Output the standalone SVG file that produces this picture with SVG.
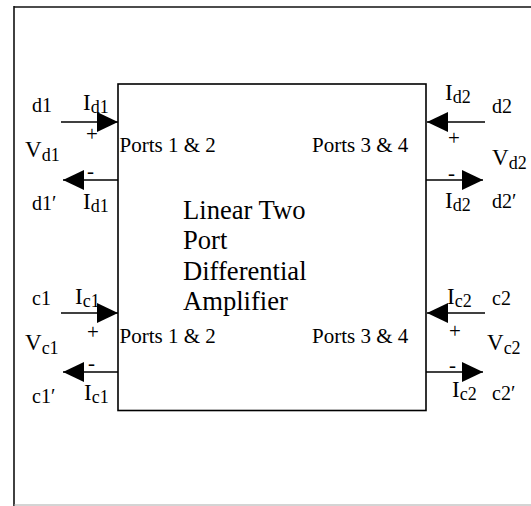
<svg xmlns="http://www.w3.org/2000/svg" width="531" height="506" viewBox="0 0 531 506">
<style>
text{font-family:"Liberation Serif","Times New Roman",serif;fill:#000}
.lbl{font-size:20px}
.iv{font-size:23px}
.sub{font-size:18px}
.pm{font-size:21px}
.port{font-size:21px}
.title{font-size:26.6px}
.wire{stroke:#000;stroke-width:1.6;fill:none}
</style>
<defs>
<marker id="ah" markerUnits="userSpaceOnUse" markerWidth="21" markerHeight="20" refX="21" refY="10" orient="auto" viewBox="0 0 21 20">
<path d="M0,0 L21,10 L0,20 Z" fill="#000"/>
</marker>
</defs>
<rect width="531" height="506" fill="#fff"/>
<g id="frame">
<line x1="14" y1="7" x2="531" y2="7" stroke="#111" stroke-width="1.6"/>
<line x1="14" y1="6" x2="14" y2="506" stroke="#111" stroke-width="1.6"/>
<line x1="14" y1="505" x2="531" y2="505" stroke="#aaa" stroke-width="1.2"/>
</g>
<g id="amplifier">
<rect x="118" y="84" width="308" height="326.5" fill="none" stroke="#000" stroke-width="1.6"/>
<text class="title" x="183" y="218.5">Linear Two</text>
<text class="title" x="183" y="249">Port</text>
<text class="title" x="183" y="279.5">Differential</text>
<text class="title" x="183" y="310">Amplifier</text>
<text class="port" x="119.5" y="152">Ports 1 &amp; 2</text>
<text class="port" x="312" y="152">Ports 3 &amp; 4</text>
<text class="port" x="119.5" y="343">Ports 1 &amp; 2</text>
<text class="port" x="312" y="343">Ports 3 &amp; 4</text>
</g>
<g id="connectors">
<line class="wire" x1="61" y1="122" x2="118" y2="122" marker-end="url(#ah)"/>
<line class="wire" x1="118" y1="180" x2="63" y2="180" marker-end="url(#ah)"/>
<line class="wire" x1="485" y1="122" x2="427" y2="122" marker-end="url(#ah)"/>
<line class="wire" x1="426" y1="180" x2="483" y2="180" marker-end="url(#ah)"/>
<line class="wire" x1="61" y1="313" x2="118" y2="313" marker-end="url(#ah)"/>
<line class="wire" x1="118" y1="372" x2="63" y2="372" marker-end="url(#ah)"/>
<line class="wire" x1="485" y1="313" x2="427" y2="313" marker-end="url(#ah)"/>
<line class="wire" x1="426" y1="372" x2="483" y2="372" marker-end="url(#ah)"/>
</g>
<g id="port-d1">
<text class="lbl" x="32" y="112">d1</text>
<text class="iv" x="83" y="110">I<tspan class="sub" dy="3">d1</tspan></text>
<text class="pm" x="86" y="141">+</text>
<text class="iv" x="25" y="157">V<tspan class="sub" dy="4">d1</tspan></text>
<text class="pm" x="87" y="178">-</text>
<text class="lbl" x="32" y="210">d1′</text>
<text class="iv" x="83" y="209">I<tspan class="sub" dy="3">d1</tspan></text>
</g>
<g id="port-d2">
<text class="iv" x="445" y="100">I<tspan class="sub" dy="3">d2</tspan></text>
<text class="lbl" x="492" y="113">d2</text>
<text class="pm" x="448" y="145">+</text>
<text class="iv" x="492" y="165">V<tspan class="sub" dy="4">d2</tspan></text>
<text class="pm" x="448" y="180">-</text>
<text class="iv" x="445" y="208">I<tspan class="sub" dy="3">d2</tspan></text>
<text class="lbl" x="492" y="208">d2′</text>
</g>
<g id="port-c1">
<text class="lbl" x="32" y="305">c1</text>
<text class="iv" x="75" y="304">I<tspan class="sub" dy="3">c1</tspan></text>
<text class="pm" x="87" y="339">+</text>
<text class="iv" x="25" y="350">V<tspan class="sub" dy="4">c1</tspan></text>
<text class="pm" x="88" y="370">-</text>
<text class="lbl" x="32" y="403">c1′</text>
<text class="iv" x="84" y="400">I<tspan class="sub" dy="3">c1</tspan></text>
</g>
<g id="port-c2">
<text class="iv" x="447" y="304">I<tspan class="sub" dy="3">c2</tspan></text>
<text class="lbl" x="492" y="305">c2</text>
<text class="pm" x="449" y="338">+</text>
<text class="iv" x="487" y="350">V<tspan class="sub" dy="4">c2</tspan></text>
<text class="pm" x="449" y="372">-</text>
<text class="iv" x="452" y="397">I<tspan class="sub" dy="3">c2</tspan></text>
<text class="lbl" x="492" y="400">c2′</text>
</g>
</svg>
